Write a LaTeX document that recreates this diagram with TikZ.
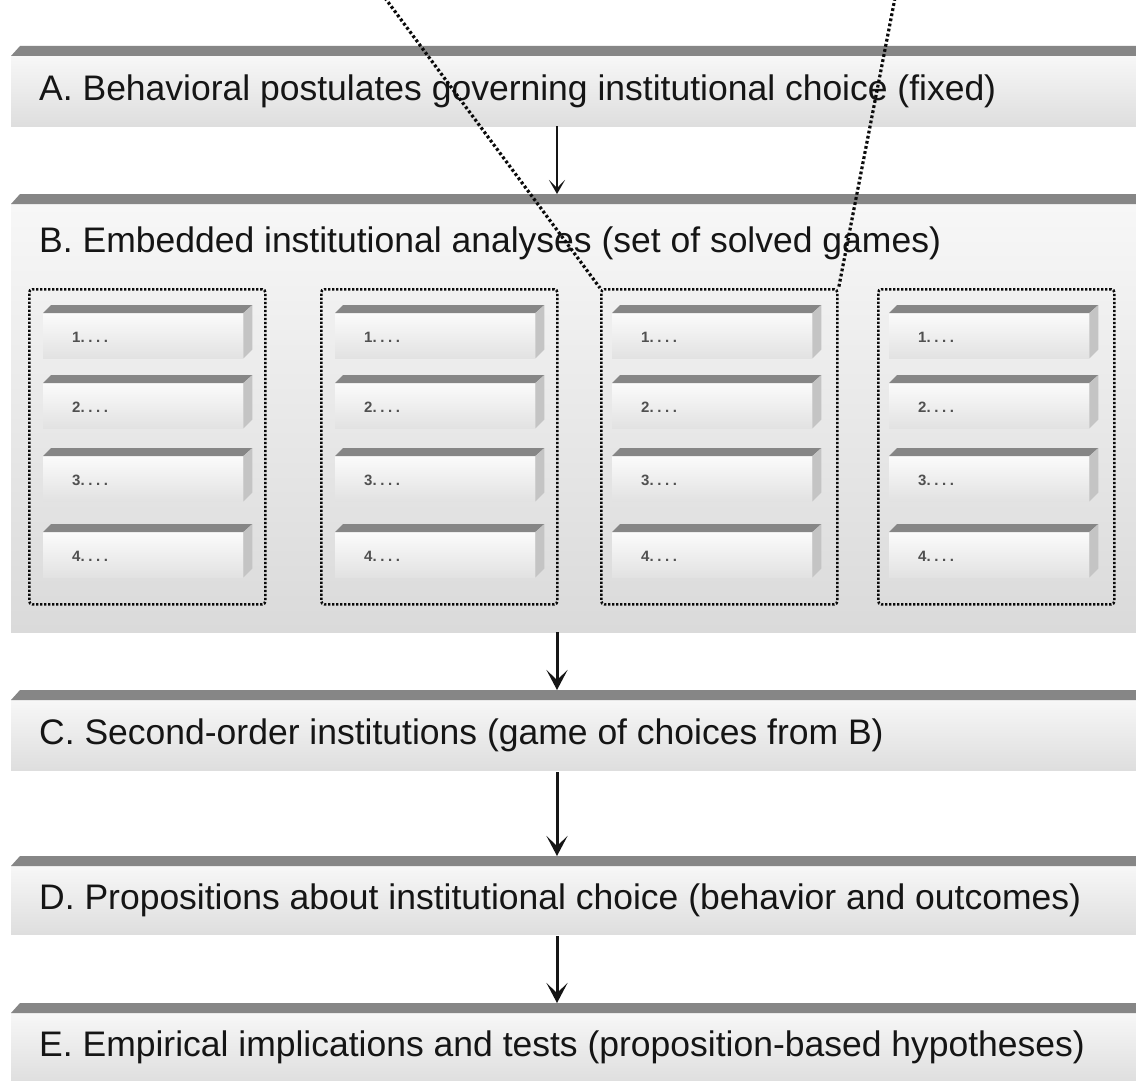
\documentclass[tikz,border=0pt]{standalone}
\usepackage{fontspec}
\setmainfont{Liberation Sans}
\usetikzlibrary{arrows.meta,calc}
\definecolor{bevelc}{HTML}{868686}
\definecolor{sidec}{HTML}{C4C4C4}
\definecolor{frontTop}{HTML}{F7F7F7}
\definecolor{frontBot}{HTML}{DEDEDE}
\definecolor{bigBot}{HTML}{DADADA}
\definecolor{smallTop}{HTML}{FBFBFB}
\definecolor{smallBot}{HTML}{E2E2E2}
\definecolor{inkc}{HTML}{151515}
\definecolor{dotc}{HTML}{0A0A0A}
\newcommand\dotlabel[1]{#1.\hspace{3.6pt}.\hspace{3.6pt}.\hspace{3.6pt}.}
\tikzset{
  bigbar/.style={anchor=north west, minimum width=1200pt, inner sep=0pt,
    top color=frontTop, bottom color=frontBot, draw=none},
  biglab/.style={anchor=west, inner sep=0pt, text=inkc,
    font=\fontsize{35.5}{42}\selectfont},
  smallbox/.style={anchor=north west, minimum width=200pt, minimum height=45pt,
    inner sep=0pt, top color=smallTop, bottom color=smallBot, draw=none},
  smalllab/.style={anchor=west, inner sep=0pt, text=inkc!75,
    font=\fontsize{15}{17}\selectfont\bfseries},
  dotbox/.style={anchor=north west, minimum width=236pt, minimum height=315pt,
    inner sep=0pt, draw=dotc, line width=2.6pt, dash pattern=on 2.2pt off 1.8pt,
    rounded corners=3pt},
  dotline/.style={draw=dotc, line width=3.2pt, dash pattern=on 2.8pt off 2.4pt},
  thinarrow/.style={draw=inkc, line width=1.6pt,
    -{Stealth[length=14pt,width=16pt,inset=8pt]}},
  thickarrow/.style={draw=inkc, line width=3pt,
    -{Stealth[length=20pt,width=21pt,inset=10pt]}},
}
\begin{document}
\begin{tikzpicture}[x=1pt,y=-1pt]
\useasboundingbox (0,0) rectangle (1136,1081);
\clip (0,0) rectangle (1136,1081);
\fill[white] (0,0) rectangle (1136,1081);
\coordinate (mid) at (557,0);

% big bars
\node[bigbar, minimum height=70pt] (A) at (11,56) {};
\node[bigbar, minimum height=428pt, bottom color=bigBot] (B) at (11,204) {};
\node[bigbar, minimum height=70pt] (C) at (11,700) {};
\node[bigbar, minimum height=68pt] (D) at (11,866) {};
\node[bigbar, minimum height=70pt] (E) at (11,1013) {};
\foreach \n in {A,B,C,D,E}{
  \fill[bevelc] (\n.north west) -- ++(9,-10) -- ++(1200,0) -- (\n.north east) -- cycle;
}

\node[biglab] (Al) at (39,91) {A. Behavioral postulates governing institutional choice (fixed)};
\node[biglab] (Bl) at (39,243) {B. Embedded institutional analyses (set of solved games)};
\node[biglab] (Cl) at (39,735) {C. Second-order institutions (game of choices from B)};
\node[biglab] (Dl) at (39,900) {D. Propositions about institutional choice (behavior and outcomes)};
\node[biglab] (El) at (39,1047) {E. Empirical implications and tests (proposition-based hypotheses)};

% groups of small boxes
\foreach \g/\fx/\bx in {1/43/28, 2/335/320, 3/612/600, 4/889/877}{
  \node[dotbox] (grp\g) at (\bx,288) {};
  \foreach \r/\ty in {1/313, 2/383, 3/456, 4/532}{
    \node[smallbox] (s\g\r) at (\fx,\ty) {};
    \fill[bevelc] (s\g\r.north west) -- ++(8,-8) -- ($(s\g\r.north east)+(9,-8)$) -- (s\g\r.north east) -- cycle;
    \fill[sidec] (s\g\r.north east) -- ++(9,-8) -- ($(s\g\r.south east)+(9,-9)$) -- (s\g\r.south east) -- cycle;
    \node[smalllab] (l\g\r) at ($(s\g\r.west)+(29,2)$) {\dotlabel{\r}};
  }
}

% arrows
\draw[thinarrow] (A.south -| mid) -- ($(B.north -| mid)+(0,-10)$);
\draw[thickarrow] (B.south -| mid) -- ($(C.north -| mid)+(0,-10)$);
\draw[thickarrow] ($(C.south -| mid)+(0,2)$) -- ($(D.north -| mid)+(0,-10)$);
\draw[thickarrow] ($(D.south -| mid)+(0,2)$) -- ($(E.north -| mid)+(0,-10)$);

% dotted guide lines
\coordinate (t1) at (385,-2);
\coordinate (t2) at (895,-2);
\draw[dotline] (t1) -- (grp3.north west);
\draw[dotline] (t2) -- (grp3.north east);
\end{tikzpicture}
\end{document}
